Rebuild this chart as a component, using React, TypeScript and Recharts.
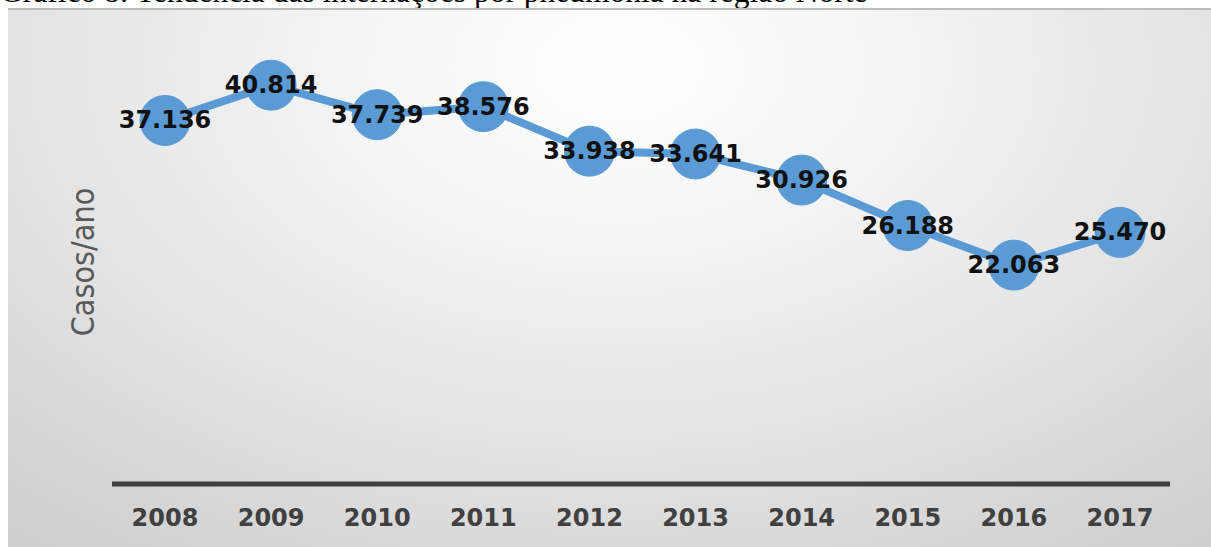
import React from 'react';
import { LineChart, Line, XAxis, YAxis, LabelList } from 'recharts';

const YEARS = ['2008', '2009', '2010', '2011', '2012', '2013', '2014', '2015', '2016', '2017'];
const CASES = [37136, 40814, 37739, 38576, 33938, 33641, 30926, 26188, 22063, 25470];
const Y_DOMAIN: [number, number] = [-750, 45000];

const TITLE = 'Gráfico 8: Tendência das internações por pneumonia na região Norte';
const Y_TITLE = 'Casos/ano';

const data = YEARS.map((year, i) => ({ year, cases: CASES[i] }));

// 37136 -> "37.136"
const fmt = (v: number) => String(v).replace(/\B(?=(\d{3})+(?!\d))/g, '.');

const BLUE = '#5b9bd5';

const PointLabel = (props: any) => {
  const { x, y, value } = props;
  return (
    <text
      x={x}
      y={y}
      textAnchor="middle"
      dominantBaseline="central"
      fontFamily="'DejaVu Sans', Verdana, sans-serif"
      fontWeight="bold"
      fontSize={24}
      fill="#111"
    >
      {fmt(value)}
    </text>
  );
};

export default function App() {
  return (
    <div style={{ position: 'fixed', inset: 0, overflow: 'hidden', background: '#fff' }}>
      {/* caption, cut off at the top of the picture */}
      <div
        style={{
          position: 'absolute', left: 0, top: -24, whiteSpace: 'nowrap',
          fontFamily: "'Liberation Serif', 'Times New Roman', serif", fontSize: 31.5, lineHeight: '32px', color: '#000',
        }}
      >
        {TITLE}
      </div>

      <div
        style={{
          position: 'absolute', left: 8, top: 8, width: 1220, height: 560,
          borderTop: '2px solid #bdbdbd',
          background: 'radial-gradient(ellipse 80% 110% at 50% 10%, #ffffff 0%, #f6f6f6 25%, #e4e4e4 60%, #cdcdcd 100%)',
        }}
      />

      <div
        style={{
          position: 'absolute', left: 83, top: 262, transform: 'translate(-50%, -50%) rotate(-90deg)',
          whiteSpace: 'nowrap', color: '#595959', fontSize: 32,
          fontFamily: "'Liberation Sans Narrow', 'DejaVu Sans Condensed', 'Open Sans', sans-serif",
        }}
      >
        {Y_TITLE}
      </div>

      <div style={{ position: 'absolute', left: 0, top: 0 }}>
        <LineChart width={1211} height={547} data={data} margin={{ top: 45, right: 41, bottom: 13, left: 112 }}>
          <XAxis
            dataKey="year"
            height={50}
            padding={{ left: 53, right: 50 }}
            tickLine={false}
            tickSize={0}
            tickMargin={25}
            axisLine={{ stroke: '#404040', strokeWidth: 5 }}
            tick={{ fill: '#404040', fontSize: 24, fontWeight: 'bold', fontFamily: "'DejaVu Sans', Verdana, sans-serif" }}
          />
          <YAxis hide domain={Y_DOMAIN} width={0} />
          <Line
            type="linear"
            dataKey="cases"
            stroke={BLUE}
            strokeWidth={8}
            dot={{ r: 25, fill: BLUE, stroke: BLUE, strokeWidth: 1 }}
            activeDot={false}
            isAnimationActive={false}
          >
            <LabelList dataKey="cases" content={<PointLabel />} />
          </Line>
        </LineChart>
      </div>
    </div>
  );
}
